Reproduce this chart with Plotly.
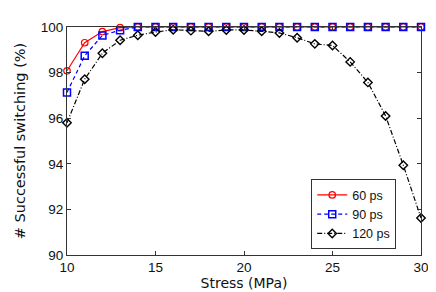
import plotly.graph_objects as go

stress = list(range(10, 31))
ps60 = [98.08, 99.31, 99.8, 99.97] + [100.0] * 17
ps90 = [97.13, 98.74, 99.63, 99.86] + [100.0] * 17
ps120 = [95.8, 97.71, 98.85, 99.42, 99.64, 99.78, 99.88, 99.84, 99.81, 99.87,
         99.87, 99.81, 99.74, 99.53, 99.26, 99.19, 98.47, 97.57, 96.1, 93.94, 91.62]
labels = ["60 ps", "90 ps", "120 ps"]

fig = go.Figure()
fig.add_trace(go.Scatter(x=stress, y=ps60, name=labels[0], mode="lines+markers",
                         line=dict(color="#ff0000", width=1.2, dash="solid"),
                         marker=dict(symbol="circle-open", size=6.5, color="#ff0000", line=dict(width=1.2)),
                         cliponaxis=False))
fig.add_trace(go.Scatter(x=stress, y=ps90, name=labels[1], mode="lines+markers",
                         line=dict(color="#0000ff", width=1.2, dash="4px,3px"),
                         marker=dict(symbol="square-open", size=7, color="#0000ff", line=dict(width=1.5)),
                         cliponaxis=False))
fig.add_trace(go.Scatter(x=stress, y=ps120, name=labels[2], mode="lines+markers",
                         line=dict(color="#000000", width=1.2, dash="5px,2px,1px,2px"),
                         marker=dict(symbol="diamond-open", size=6.5, color="#000000", line=dict(width=1.4)),
                         cliponaxis=False))

axis_common = dict(showline=True, linecolor="#333333", linewidth=1, mirror="ticks",
                   ticks="inside", ticklen=4, tickcolor="#333333", showgrid=False, zeroline=False,
                   tickfont=dict(family="Liberation Sans, Arial", size=13.5, color="#111111"))
fig.update_xaxes(range=[10, 30], tickvals=[10, 15, 20, 25, 30],
                 title=dict(text="Stress (MPa)", standoff=3,
                            font=dict(family="DejaVu Sans", size=14, color="#111111")),
                 **axis_common)
fig.update_yaxes(range=[90, 100], tickvals=[90, 92, 94, 96, 98, 100],
                 title=dict(text="# Successful switching (%)", standoff=11,
                            font=dict(family="DejaVu Sans", size=14.5, color="#111111")),
                 **axis_common)

fig.update_layout(width=436, height=292, margin=dict(l=59, r=23, t=12, b=36),
                  plot_bgcolor="white", paper_bgcolor="white",
                  legend=dict(x=0.93, y=0.025, xanchor="right", yanchor="bottom",
                              bordercolor="#333333", borderwidth=1, bgcolor="white",
                              font=dict(family="Liberation Sans, Arial", size=12.5, color="#111111"),
                              tracegroupgap=0, itemwidth=30))
fig.write_html("out.html")
